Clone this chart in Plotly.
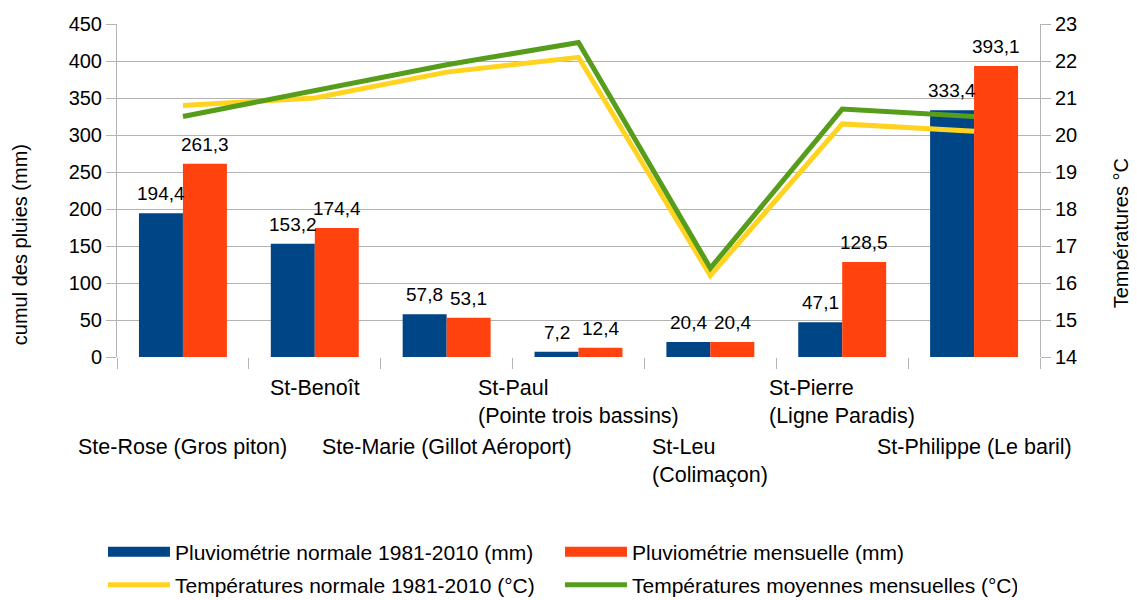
import plotly.graph_objects as go

categories = ["Ste-Rose (Gros piton)", "St-Benoît", "Ste-Marie (Gillot Aéroport)",
              "St-Paul (Pointe trois bassins)", "St-Leu (Colimaçon)",
              "St-Pierre (Ligne Paradis)", "St-Philippe (Le baril)"]
tick_labels = ["Ste-Rose (Gros piton)", "St-Benoît", "Ste-Marie (Gillot Aéroport)",
               "St-Paul<br>(Pointe trois bassins)", "St-Leu<br>(Colimaçon)",
               "St-Pierre<br>(Ligne Paradis)", "St-Philippe (Le baril)"]
pluvio_normale = [194.4, 153.2, 57.8, 7.2, 20.4, 47.1, 333.4]
pluvio_mensuelle = [261.3, 174.4, 53.1, 12.4, 20.4, 128.5, 393.1]
temp_normale = [20.8, 21.0, 21.7, 22.1, 16.2, 20.3, 20.1]
temp_moyenne = [20.5, 21.2, 21.9, 22.5, 16.4, 20.7, 20.5]

FONT = "Liberation Sans, Arial, sans-serif"
BLUE, ORANGE, YELLOW, GREEN = "#004586", "#ff420e", "#ffd320", "#579d1c"
GRID = "#b3b3b3"

def fr(v):
    return f"{v:.1f}".replace(".", ",")

fig = go.Figure()
fig.add_trace(go.Bar(x=categories, y=pluvio_normale, name="Pluviométrie normale 1981-2010 (mm)",
                     marker=dict(color=BLUE, line=dict(width=0)), showlegend=False))
fig.add_trace(go.Bar(x=categories, y=pluvio_mensuelle, name="Pluviométrie mensuelle (mm)",
                     marker=dict(color=ORANGE, line=dict(width=0)), showlegend=False))
fig.add_trace(go.Scatter(x=categories, y=temp_normale, name="Températures normale 1981-2010 (°C)",
                         mode="lines", line=dict(color=YELLOW, width=5), yaxis="y2",
                         legend="legend2"))
fig.add_trace(go.Scatter(x=categories, y=temp_moyenne, name="Températures moyennes mensuelles (°C)",
                         mode="lines", line=dict(color=GREEN, width=5), yaxis="y2",
                         legend="legend2"))
# legend-only entries for the bar series (wide swatches like the original)
fig.add_trace(go.Scatter(x=[None], y=[None], mode="lines", name="Pluviométrie normale 1981-2010 (mm)",
                         line=dict(color=BLUE, width=13), legend="legend", hoverinfo="skip"))
fig.add_trace(go.Scatter(x=[None], y=[None], mode="lines", name="Pluviométrie mensuelle (mm)",
                         line=dict(color=ORANGE, width=13), legend="legend", hoverinfo="skip"))

annotations = []
# value labels above bars
for c, v1, v2 in zip(categories, pluvio_normale, pluvio_mensuelle):
    for v, sh in ((v1, -22), (v2, 22)):
        annotations.append(dict(x=c, xref="x", y=v, yref="y", xshift=sh, yshift=7,
                                xanchor="center", yanchor="bottom", showarrow=False,
                                text=fr(v), font=dict(size=19, family=FONT, color="#000000")))
# staggered category labels
for i, (c, lab) in enumerate(zip(categories, tick_labels)):
    annotations.append(dict(x=c, xref="x", y=(-0.051 if i % 2 == 1 else -0.227), yref="paper",
                            yanchor="top", xanchor="center", align="left", showarrow=False,
                            text=lab, font=dict(size=21.5, family=FONT, color="#000000")))
annotations.append(dict(x=-0.105, y=0.336, xref="paper", yref="paper", textangle=-90,
                        xanchor="center", yanchor="middle",
                        text="cumul des pluies (mm)", showarrow=False,
                        font=dict(size=20, family=FONT, color="#000000")))
annotations.append(dict(x=1.088, y=0.372, xref="paper", yref="paper", textangle=-90,
                        xanchor="center", yanchor="middle",
                        text="Températures °C", showarrow=False,
                        font=dict(size=20, family=FONT, color="#000000")))

fig.update_layout(
    width=1129, height=592,
    margin=dict(l=109, r=97, t=16, b=243, autoexpand=False),
    paper_bgcolor="white", plot_bgcolor="white",
    font=dict(family=FONT, size=20, color="#000000"),
    barmode="group", bargap=0.333, bargroupgap=0,
    xaxis=dict(type="category", range=[-0.5, 6.5], showticklabels=False, ticks="outside",
               tickson="boundaries", ticklen=11, tickcolor=GRID, showgrid=False,
               showline=False, zeroline=False),
    yaxis=dict(range=[0, 450], dtick=50, ticks="outside", ticklen=10, tickcolor=GRID,
               showgrid=True, gridcolor=GRID, gridwidth=1, showline=True, linecolor=GRID,
               zeroline=False, tickfont=dict(size=20, color="#000000")),
    yaxis2=dict(range=[14, 23], dtick=1, overlaying="y", side="right", ticks="outside",
                ticklen=10, tickcolor=GRID, showgrid=False, showline=True, linecolor=GRID,
                zeroline=False, tickfont=dict(size=20, color="#000000")),
    legend=dict(orientation="h", x=-0.0152, y=-0.586, xanchor="left", yanchor="middle",
                entrywidth=380, itemwidth=62, font=dict(size=21, family=FONT),
                bgcolor="rgba(0,0,0,0)", traceorder="normal"),
    legend2=dict(orientation="h", x=-0.0152, y=-0.685, xanchor="left", yanchor="middle",
                 entrywidth=380, itemwidth=62, font=dict(size=21, family=FONT),
                 bgcolor="rgba(0,0,0,0)", traceorder="normal"),
    annotations=annotations,
)

fig.write_html("out.html")
